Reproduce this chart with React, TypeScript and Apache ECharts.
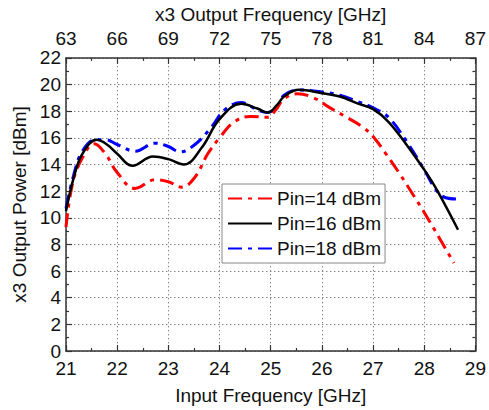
import React, { useEffect, useRef } from "react";
import * as echarts from "echarts";

const seriesNames = ["Pin=14 dBm", "Pin=16 dBm", "Pin=18 dBm"];

const x14 = [21, 21.13, 21.32, 21.55, 21.77, 22, 22.35, 22.74, 23, 23.26, 23.52, 23.77, 24, 24.29, 24.6, 24.94, 25.1, 25.25, 25.52, 25.84, 26.16, 26.48, 26.8, 27, 27.26, 27.52, 27.77, 28, 28.3, 28.58];
const y14 = [9.3, 12.6, 14.5, 15.55, 14.8, 13.4, 12.2, 12.85, 12.7, 12.3, 13.05, 14.8, 16.0, 17.2, 17.6, 17.55, 18.1, 18.9, 19.3, 19.0, 18.25, 17.55, 16.8, 16.1, 14.75, 13.3, 11.8, 10.4, 8.45, 6.6];

const x16 = [21, 21.15, 21.32, 21.6, 21.8, 22, 22.3, 22.7, 23, 23.3, 23.65, 24, 24.42, 24.74, 24.94, 25.13, 25.26, 25.55, 26, 26.35, 26.68, 27, 27.3, 27.65, 28, 28.23, 28.66];
const y16 = [10.5, 13.0, 14.8, 15.85, 15.5, 14.8, 13.9, 14.6, 14.4, 14.0, 15.25, 17.4, 18.55, 18.2, 17.9, 18.5, 19.1, 19.6, 19.35, 19.1, 18.6, 18.15, 17.2, 15.5, 13.6, 12.2, 9.1];

const x18 = [21, 21.15, 21.32, 21.58, 21.77, 22, 22.35, 22.74, 23, 23.23, 23.52, 23.84, 24.1, 24.42, 24.74, 24.94, 25.13, 25.26, 25.55, 26, 26.35, 26.68, 27, 27.3, 27.65, 28, 28.23, 28.42, 28.66];
const y18 = [10.7, 13.2, 15.0, 15.85, 15.85, 15.5, 15.0, 15.6, 15.35, 14.95, 15.5, 16.8, 18.1, 18.65, 18.1, 17.9, 18.4, 19.2, 19.6, 19.45, 19.2, 18.75, 18.25, 17.55, 15.75, 13.6, 12.1, 11.5, 11.4];

const zip = (xs: number[], ys: number[]) => xs.map((x, i) => [x, ys[i]]);

const FONT = "Liberation Sans";
const AXIS_COLOR = "#333";
const FS = 19;

export default function App() {
  const ref = useRef<HTMLDivElement>(null);
  useEffect(() => {
    if (!ref.current) return;
    const chart = echarts.init(ref.current, undefined, { renderer: "svg" });
    const axisCommon = {
      axisLine: { show: true, onZero: false, lineStyle: { color: AXIS_COLOR, width: 1.5 } },
      axisTick: { show: true, inside: true, length: 6, lineStyle: { color: AXIS_COLOR, width: 1.2 } },
      minorTick: { show: true, splitNumber: 2, length: 3, lineStyle: { color: AXIS_COLOR, width: 1.2 } },
      axisLabel: { fontFamily: FONT, fontSize: FS, color: "#111" },
      nameTextStyle: { fontFamily: FONT, fontSize: FS, color: "#111" },
    };
    const gridLine = { show: true, lineStyle: { color: "#888", type: [1.5, 2.5], width: 1 } };
    const dashDot = [14, 6, 4, 6];
    chart.setOption({
      animation: false,
      backgroundColor: "#fff",
      grid: { left: 66, right: 9, top: 50, bottom: 58, containLabel: false },
      legend: {
        orient: "vertical",
        left: 222,
        top: 184,
        itemWidth: 44,
        itemHeight: 14,
        itemGap: 6,
        padding: [5, 4, 5, 5],
        borderColor: "#888",
        borderWidth: 1,
        backgroundColor: "#fff",
        itemStyle: { opacity: 0 },
        textStyle: { fontFamily: FONT, fontSize: FS, color: "#111" },
        data: seriesNames,
      },
      xAxis: [
        {
          type: "value",
          min: 21,
          max: 29,
          interval: 1,
          position: "bottom",
          name: "Input Frequency [GHz]",
          nameLocation: "middle",
          nameGap: 35,
          ...axisCommon,
          axisLabel: { ...axisCommon.axisLabel, margin: 8 },
          splitLine: gridLine,
        },
        {
          type: "value",
          min: 63,
          max: 87,
          interval: 3,
          position: "top",
          name: "x3 Output Frequency [GHz]",
          nameLocation: "middle",
          nameGap: 32,
          ...axisCommon,
          axisLabel: { ...axisCommon.axisLabel, margin: 10 },
          splitLine: { show: false },
        },
      ],
      yAxis: [
        {
          type: "value",
          min: 0,
          max: 22,
          interval: 2,
          position: "left",
          name: "x3 Output Power [dBm]",
          nameLocation: "middle",
          nameGap: 37,
          ...axisCommon,
          axisLabel: { ...axisCommon.axisLabel, margin: 5 },
          splitLine: gridLine,
        },
        {
          type: "value",
          min: 0,
          max: 22,
          interval: 2,
          position: "right",
          ...axisCommon,
          axisLabel: { show: false },
          splitLine: { show: false },
        },
      ],
      series: [
        {
          name: seriesNames[0],
          type: "line",
          data: zip(x14, y14),
          smooth: 0.4,
          symbol: "none",
          lineStyle: { color: "#ff0000", width: 3, type: dashDot },
          itemStyle: { color: "#ff0000" },
          z: 3,
        },
        {
          name: seriesNames[1],
          type: "line",
          data: zip(x16, y16),
          smooth: 0.4,
          symbol: "none",
          lineStyle: { color: "#000000", width: 2.5 },
          itemStyle: { color: "#000000" },
          z: 4,
        },
        {
          name: seriesNames[2],
          type: "line",
          data: zip(x18, y18),
          smooth: 0.4,
          symbol: "none",
          lineStyle: { color: "#0000ff", width: 3, type: dashDot },
          itemStyle: { color: "#0000ff" },
          z: 2,
        },
      ],
    });
    return () => chart.dispose();
  }, []);
  return (
    <div
      ref={ref}
      style={{ position: "absolute", left: 0, top: 0, width: 489, height: 410 }}
    />
  );
}
